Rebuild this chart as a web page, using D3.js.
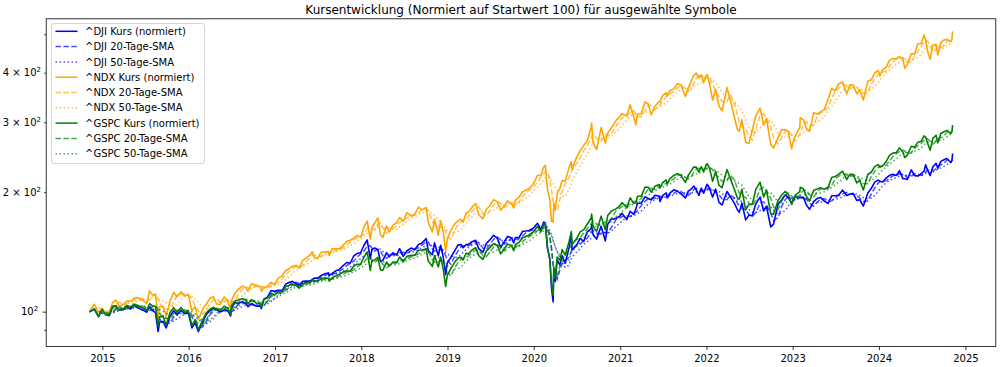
<!DOCTYPE html>
<html><head><meta charset="utf-8">
<script src="https://cdn.jsdelivr.net/npm/d3@7"></script>
<style>
body{margin:0;background:#fff;}
svg{display:block;font-family:"DejaVu Sans",sans-serif;}
</style>
</head><body>
<svg id="chart" width="1000" height="367"></svg>
<script>
// ---------------- DATA (normalised, start value = 100) ----------------
const dates = [
 "2014-11-07","2014-11-14","2014-11-28","2014-12-16","2014-12-31",
 "2015-01-15","2015-01-30","2015-02-13","2015-02-27","2015-03-13","2015-03-31","2015-04-15","2015-04-30","2015-05-15","2015-05-29","2015-06-15","2015-06-30","2015-07-08","2015-07-20","2015-07-31","2015-08-14","2015-08-25","2015-08-31","2015-09-15","2015-09-28","2015-10-15","2015-10-30","2015-11-13","2015-11-30","2015-12-14","2015-12-31",
 "2016-01-15","2016-01-29","2016-02-11","2016-02-29","2016-03-15","2016-03-31","2016-04-15","2016-04-29","2016-05-13","2016-05-31","2016-06-15","2016-06-27","2016-06-30","2016-07-15","2016-07-29","2016-08-15","2016-08-31","2016-09-09","2016-09-22","2016-09-30","2016-10-14","2016-10-31","2016-11-04","2016-11-15","2016-11-30","2016-12-15","2016-12-30",
 "2017-01-13","2017-01-31","2017-02-15","2017-02-28","2017-03-15","2017-03-31","2017-04-13","2017-04-28","2017-05-15","2017-05-31","2017-06-08","2017-06-15","2017-06-30","2017-07-14","2017-07-31","2017-08-15","2017-08-18","2017-08-31","2017-09-15","2017-09-29","2017-10-13","2017-10-31","2017-11-15","2017-11-30","2017-12-15","2017-12-29",
 "2018-01-12","2018-01-26","2018-02-08","2018-02-15","2018-02-27","2018-03-12","2018-03-23","2018-04-02","2018-04-18","2018-04-30","2018-05-15","2018-05-31","2018-06-12","2018-06-28","2018-07-13","2018-07-31","2018-08-15","2018-08-31","2018-09-14","2018-10-03","2018-10-11","2018-10-29","2018-11-07","2018-11-23","2018-12-03","2018-12-14","2018-12-24","2018-12-31",
 "2019-01-15","2019-01-31","2019-02-15","2019-02-28","2019-03-08","2019-03-21","2019-03-29","2019-04-15","2019-04-30","2019-05-13","2019-05-31","2019-06-14","2019-06-28","2019-07-15","2019-07-31","2019-08-14","2019-08-30","2019-09-12","2019-09-30","2019-10-08","2019-10-15","2019-10-31","2019-11-15","2019-11-29","2019-12-13","2019-12-31",
 "2020-01-17","2020-01-31","2020-02-12","2020-02-19","2020-02-28","2020-03-09","2020-03-16","2020-03-23","2020-03-26","2020-04-01","2020-04-09","2020-04-21","2020-04-30","2020-05-13","2020-05-29","2020-06-08","2020-06-11","2020-06-30","2020-07-15","2020-07-31","2020-08-14","2020-08-31","2020-09-02","2020-09-08","2020-09-23","2020-10-12","2020-10-30","2020-11-09","2020-11-24","2020-12-15","2020-12-31",
 "2021-01-08","2021-01-29","2021-02-12","2021-02-26","2021-03-08","2021-03-15","2021-03-31","2021-04-16","2021-04-30","2021-05-12","2021-05-28","2021-06-15","2021-06-18","2021-06-30","2021-07-15","2021-07-19","2021-07-30","2021-08-16","2021-08-31","2021-09-15","2021-10-04","2021-10-15","2021-10-29","2021-11-08","2021-11-19","2021-11-30","2021-12-10","2021-12-20","2021-12-31",
 "2022-01-04","2022-01-14","2022-01-27","2022-02-09","2022-02-23","2022-03-08","2022-03-29","2022-04-12","2022-04-29","2022-05-12","2022-05-20","2022-05-31","2022-06-16","2022-06-30","2022-07-14","2022-07-29","2022-08-16","2022-08-31","2022-09-12","2022-09-30","2022-10-12","2022-10-31","2022-11-15","2022-11-30","2022-12-13","2022-12-28","2022-12-30",
 "2023-01-13","2023-01-31","2023-02-02","2023-02-15","2023-02-28","2023-03-13","2023-03-31","2023-04-14","2023-04-28","2023-05-15","2023-05-31","2023-06-15","2023-06-30","2023-07-14","2023-07-31","2023-08-18","2023-08-31","2023-09-14","2023-09-29","2023-10-12","2023-10-27","2023-11-15","2023-11-30","2023-12-15","2023-12-29",
 "2024-01-05","2024-01-17","2024-01-31","2024-02-15","2024-02-29","2024-03-15","2024-03-28","2024-04-12","2024-04-19","2024-04-30","2024-05-17","2024-05-31","2024-06-14","2024-06-28","2024-07-10","2024-07-17","2024-07-25","2024-08-05","2024-08-16","2024-08-30","2024-09-06","2024-09-19","2024-09-30","2024-10-15","2024-10-31","2024-11-05","2024-11-08"
];
const dji = [
 100,100.3,101.4,97.1,101.4,
 98.6,97.7,102.5,103.2,101.0,101.1,103.1,101.5,104.0,102.5,101.2,100.3,99.7,103.0,100.7,99.4,89.1,94.0,94.5,91.0,97.5,100.5,98.1,100.8,98.8,99.2,
 91.0,93.7,89.1,94.0,98.2,100.6,101.8,101.1,99.8,101.2,100.4,97.5,102.0,105.4,104.9,106.0,104.7,102.9,104.7,104.2,103.2,103.2,101.8,107.7,108.8,113.0,112.5,
 113.2,113.0,117.3,118.4,119.2,117.6,116.4,119.2,119.4,119.5,120.5,121.5,121.5,123.1,124.6,125.2,123.3,124.9,126.7,127.5,130.1,133.0,132.4,138.1,140.3,140.7,
 146.8,151.5,135.8,143.4,144.6,143.3,133.9,134.5,140.8,137.5,140.6,138.9,144.1,137.8,142.4,144.6,143.2,147.7,148.8,152.7,142.6,139.1,149.0,138.2,147.0,137.1,124.0,132.7,
 136.9,142.3,147.3,147.5,144.8,147.7,147.5,150.1,151.3,144.1,141.2,148.5,151.4,155.7,152.9,145.0,150.2,154.7,153.2,148.9,153.8,153.9,159.4,159.6,160.1,162.4,
 167.0,160.8,168.2,167.0,144.6,135.7,114.9,105.8,128.3,119.2,135.0,131.0,138.5,132.3,144.4,156.9,143.0,146.9,152.9,150.4,158.9,161.8,165.6,156.5,152.3,164.1,150.8,165.9,171.0,171.8,174.2,
 177.0,170.6,179.0,176.0,181.0,187.5,187.7,194.6,192.8,191.1,196.5,195.2,189.4,196.3,199.1,193.3,198.8,202.7,201.2,198.1,193.5,200.8,203.8,207.3,202.6,196.2,204.7,198.8,206.8,
 209.4,204.3,194.4,203.5,188.5,185.7,200.8,194.7,187.6,180.6,177.9,187.7,170.3,175.1,174.3,186.9,194.3,179.3,184.3,163.5,166.2,186.3,191.2,196.8,194.1,187.1,188.6,
 195.2,194.0,193.8,194.2,185.8,181.1,189.3,192.8,194.0,189.8,187.3,195.8,195.8,196.4,202.3,196.3,197.6,198.6,190.7,191.4,184.5,199.1,204.6,212.3,214.5,
 213.2,212.1,217.1,220.6,221.9,220.3,226.5,216.1,216.1,215.2,227.6,220.1,219.6,222.6,226.0,234.4,227.2,220.2,231.4,236.5,229.6,239.1,240.9,243.2,237.6,240.3,250.3
];
const ndx = [
 100,101.7,104.4,99.4,101.9,
 98.6,99.9,105.2,106.9,103.2,104.3,106.4,106.2,108.0,108.5,107.3,105.8,104.7,112.8,110.4,110.2,96.2,102.9,103.2,97.3,106.6,111.9,109.0,112.2,109.5,110.5,
 100.3,103.0,95.5,101.1,104.2,107.9,109.0,104.5,104.2,108.9,106.4,101.1,106.3,111.2,113.8,116.0,114.8,112.6,117.4,117.3,116.2,115.5,112.6,115.0,115.7,118.6,117.0,
 121.3,123.1,126.8,128.2,130.2,130.8,128.7,134.4,136.9,139.3,141.5,137.4,135.9,141.0,141.5,141.7,138.4,144.1,143.9,143.9,146.3,150.3,151.3,153.2,155.7,153.9,
 163.1,169.0,152.3,162.9,167.2,172.3,156.4,153.8,164.6,158.9,165.1,167.6,172.8,168.9,177.6,174.0,175.7,183.3,180.5,182.9,168.2,158.8,170.8,155.7,169.6,158.6,142.0,152.3,
 160.3,166.2,169.6,170.8,168.2,177.6,177.5,183.4,187.2,175.4,171.5,180.9,184.6,191.5,188.8,180.0,185.1,190.1,186.5,182.4,190.8,194.5,200.4,202.2,204.5,210.1,
 220.6,220.2,231.3,233.8,203.6,191.3,168.9,168.3,187.7,180.2,198.3,204.5,213.9,213.2,229.9,238.7,228.3,244.4,253.9,262.4,269.0,291.4,298.8,266.4,255.8,290.9,266.0,281.8,289.7,303.2,310.1,
 315.2,311.0,332.1,310.6,296.0,314.2,315.0,337.8,333.5,313.5,329.3,338.5,337.6,350.2,356.1,348.9,360.0,364.1,374.9,373.0,348.2,364.5,381.4,393.4,398.8,388.2,394.9,377.3,392.7,
 395.6,375.6,341.2,362.6,330.1,320.5,366.7,341.0,309.3,287.5,284.9,304.2,267.1,265.4,286.3,311.5,325.8,295.3,306.5,264.0,258.4,274.4,287.1,287.6,284.6,257.0,263.2,
 277.7,291.2,308.0,304.6,289.8,284.6,317.2,314.7,318.7,323.4,343.0,365.3,360.3,374.4,379.2,353.7,373.0,372.2,354.1,362.1,341.2,380.4,383.7,399.9,404.9,
 392.2,407.6,412.3,429.5,434.2,433.1,439.2,433.1,410.0,419.7,446.3,446.0,473.0,473.6,497.5,481.2,453.1,432.1,469.4,471.0,443.2,476.4,482.7,485.3,478.6,484.8,508.1
];
const gspc = [
 100,100.4,101.8,97.1,101.3,
 98.1,98.2,103.2,103.6,101.0,101.8,103.7,102.7,104.5,103.7,102.6,101.5,100.7,104.7,103.5,103.0,91.9,97.0,97.4,92.6,99.6,102.3,99.6,102.4,99.5,100.6,
 92.5,95.5,90.0,95.1,99.2,101.4,102.4,101.6,100.7,103.2,101.9,98.5,103.3,106.4,107.0,107.8,106.8,104.7,107.1,106.7,105.0,104.6,102.6,107.3,108.2,111.3,110.2,
 112.0,112.2,115.7,116.3,117.4,116.3,114.6,117.3,118.2,118.7,119.8,119.7,119.2,121.0,121.6,121.3,119.4,121.7,123.0,124.0,125.6,126.7,126.2,130.3,131.7,131.6,
 137.1,141.4,127.0,134.4,135.0,137.0,127.4,127.1,133.3,130.3,133.4,133.1,137.2,133.7,137.8,138.6,138.7,142.8,143.0,144.0,134.3,130.0,138.5,129.6,137.3,128.0,115.7,123.4,
 128.4,133.1,136.6,137.0,135.0,140.5,139.5,143.0,145.0,138.4,135.4,142.1,144.8,148.3,146.7,139.8,144.0,148.1,146.5,142.4,147.4,149.5,153.5,154.6,156.0,159.0,
 163.9,158.8,166.3,166.6,145.4,135.2,117.4,110.1,129.4,121.6,137.3,134.7,143.3,138.8,149.8,159.1,147.7,152.6,158.8,161.0,166.0,172.2,176.2,164.0,159.3,174.0,160.9,174.7,178.9,181.8,184.8,
 188.2,182.8,193.6,187.6,188.0,195.3,195.5,206.0,205.8,200.0,206.9,209.0,205.0,211.5,214.6,209.5,216.3,220.4,222.6,220.5,211.6,220.0,226.6,231.4,231.2,224.8,231.9,224.8,234.6,
 235.9,229.5,212.9,225.7,208.0,205.2,228.0,216.4,203.3,193.4,192.0,203.3,180.5,186.3,186.5,203.2,211.9,194.6,202.3,176.5,176.0,190.6,196.5,200.8,197.8,186.2,189.0,
 196.8,200.6,205.7,204.1,195.4,189.8,202.2,203.6,205.2,203.5,205.7,217.8,219.0,221.7,225.8,215.1,221.9,221.7,211.0,214.0,202.6,221.6,224.8,232.2,234.7,
 231.2,233.2,238.5,247.5,250.8,251.8,258.6,252.1,244.4,247.8,261.0,259.7,267.3,268.7,277.2,275.1,265.7,255.2,273.3,278.0,266.1,281.1,283.6,286.2,280.8,284.6,295.1
];
const symbols = ["^DJI", "^NDX", "^GSPC"];
const seriesColors = ["#0000ff", "#ffa500", "#008000"];
const smaDays = [20, 50];              // trading days
const smaLabels = ["20-Tage-SMA", "50-Tage-SMA"];
const yLimits = [81.7, 546.7];
const yTickValues = [90, 100, 200, 300, 400, 500];
const yTickLabels = ["", "10^2", "2 × 10^2", "3 × 10^2", "4 × 10^2", ""];
const yMajorTicks = [100];
const xTickYears = [2015,2016,2017,2018,2019,2020,2021,2022,2023,2024,2025];
const titleText = "Kursentwicklung (Normiert auf Startwert 100) für ausgewählte Symbole";

// ---------------- CHART ----------------
if (dji.length !== dates.length || ndx.length !== dates.length || gspc.length !== dates.length)
  console.error("length mismatch", dates.length, dji.length, ndx.length, gspc.length);

const svg = d3.select("#chart");
const P = {left: 46.2, right: 995.8, top: 18.8, bottom: 346.5};
const parse = d3.utcParse("%Y-%m-%d");
const t = dates.map(parse);
const span = t[t.length-1] - t[0];
const x = d3.scaleUtc()
  .domain([new Date(+t[0] - span*0.05), new Date(+t[t.length-1] + span*0.05)])
  .range([P.left, P.right]);
const y = d3.scaleLog().domain(yLimits).range([P.bottom, P.top]);

// simple moving average over trading-day window (converted to calendar days), time weighted
function sma(vals, tradingDays){
  const Wms = tradingDays * 365.25/252 * 864e5;
  const out = [];
  for (let i = 0; i < t.length; i++){
    const end = +t[i], start = end - Wms;
    if (start < +t[0]) continue;
    let area = 0;
    for (let j = 1; j <= i; j++){
      const a0 = +t[j-1], b0 = +t[j];
      if (b0 <= start) continue;
      const a = Math.max(a0, start);
      const va = vals[j-1] + (vals[j]-vals[j-1])*(a-a0)/(b0-a0);
      area += (va + vals[j])/2 * (b0 - a);
    }
    out.push({t: t[i], v: area / Wms});
  }
  return out;
}

svg.append("defs").append("clipPath").attr("id","clip")
  .append("rect").attr("x",P.left).attr("y",P.top).attr("width",P.right-P.left).attr("height",P.bottom-P.top);

const line = d3.line().x(d => x(d.t)).y(d => y(d.v));
const gLines = svg.append("g").attr("clip-path","url(#clip)");
const seriesVals = [dji, ndx, gspc];
const legendItems = [];
const dashes = [null, "5.5,2.4", "1.5,2.5"];
seriesVals.forEach((vals, k) => {
  const col = seriesColors[k];
  const price = vals.map((v,i) => ({t: t[i], v}));
  gLines.append("path").datum(price).attr("d", line)
    .attr("fill","none").attr("stroke", col).attr("stroke-width", 1.6).attr("stroke-linejoin","round");
  legendItems.push({label: symbols[k] + " Kurs (normiert)", color: col, dash: null, op: 1});
  smaDays.forEach((n, m) => {
    gLines.append("path").datum(sma(vals, n)).attr("d", line)
      .attr("fill","none").attr("stroke", col).attr("stroke-opacity", 0.7)
      .attr("stroke-width", 1.5).attr("stroke-dasharray", dashes[m+1]);
    legendItems.push({label: symbols[k] + " " + smaLabels[m], color: col, dash: dashes[m+1], op: 0.7});
  });
});

// frame
svg.append("rect").attr("x",P.left).attr("y",P.top).attr("width",P.right-P.left).attr("height",P.bottom-P.top)
  .attr("fill","none").attr("stroke","#000").attr("stroke-width",0.8);

// x axis
const xAxis = svg.append("g").attr("transform",`translate(0,${P.bottom})`)
  .call(d3.axisBottom(x).tickValues(xTickYears.map(yv => new Date(Date.UTC(yv,0,1))))
    .tickFormat(d3.utcFormat("%Y")).tickSize(3.5).tickPadding(4.4));
xAxis.select(".domain").remove();
xAxis.selectAll("text").attr("font-size","10px").attr("fill","#000").attr("font-family","DejaVu Sans");
xAxis.selectAll("line").attr("stroke-width",0.8);

// y axis: major & minor ticks
function styleY(g){
  g.select(".domain").remove();
  g.selectAll("line").attr("stroke-width",0.8);
  g.selectAll("text").attr("font-size","10px").attr("fill","#000").attr("font-family","DejaVu Sans")
    .each(function(d){
      const lab = yTickLabels[yTickValues.indexOf(d)] || "";
      const el = d3.select(this).text(null);
      if (!lab) return;
      const [base, exp] = lab.split("^");
      el.append("tspan").text(base);
      if (exp) el.append("tspan").attr("font-size","7px").attr("dy","-4").text(exp);
    });
}
const yMinor = yTickValues.filter(v => !yMajorTicks.includes(v));
const gyMaj = svg.append("g").attr("transform",`translate(${P.left},0)`)
  .call(d3.axisLeft(y).tickValues(yMajorTicks).tickSize(3.5).tickPadding(4.6));
styleY(gyMaj);
const gyMin = svg.append("g").attr("transform",`translate(${P.left},0)`)
  .call(d3.axisLeft(y).tickValues(yMinor).tickSize(2).tickPadding(3.2));
styleY(gyMin);

// title
svg.append("text").attr("x",(P.left+P.right)/2).attr("y",14).attr("text-anchor","middle")
  .attr("font-size","12px").attr("fill","#000").text(titleText);

// legend
const L = {x: 51, y: 23, w: 153, h: 140, row: 15.3};
const gL = svg.append("g");
gL.append("rect").attr("x",L.x+0.5).attr("y",L.y+0.5).attr("width",L.w).attr("height",L.h)
  .attr("rx",2.5).attr("fill","#fff").attr("fill-opacity",0.8).attr("stroke","#cccccc").attr("stroke-width",0.8);
legendItems.forEach((it, i) => {
  const cy = L.y + 8.3 + i*L.row;
  gL.append("line").attr("x1",L.x+4.5).attr("x2",L.x+26.5).attr("y1",cy).attr("y2",cy)
    .attr("stroke",it.color).attr("stroke-opacity",it.op).attr("stroke-width",1.5)
    .attr("stroke-dasharray",it.dash);
  gL.append("text").attr("x",L.x+34).attr("y",cy+3.6).attr("font-size","10px").attr("fill","#000").text(it.label);
});
</script>
</body></html>
